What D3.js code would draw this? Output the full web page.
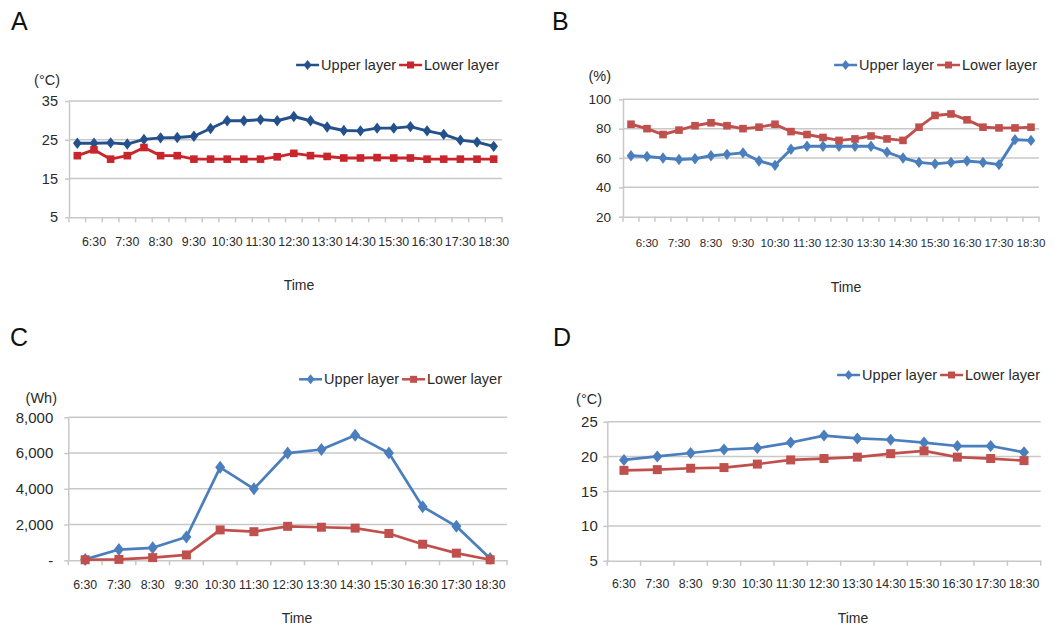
<!DOCTYPE html>
<html>
<head>
<meta charset="utf-8">
<script src="https://cdn.jsdelivr.net/npm/d3@7"></script>
<style>
  body { margin: 0; background: #fff; }
  svg { display: block; font-family: "Liberation Sans", Arial, Helvetica, sans-serif; }
</style>
</head>
<body>
<svg id="chart" width="1055" height="625"></svg>
<script>
// Half-hourly readings (panels A, B) and hourly readings (panels C, D)
const halfHourTimes = ["6:00","6:30","7:00","7:30","8:00","8:30","9:00","9:30","10:00","10:30",
  "11:00","11:30","12:00","12:30","13:00","13:30","14:00","14:30","15:00","15:30",
  "16:00","16:30","17:00","17:30","18:00","18:30"];
const hourTimes = ["6:30","7:30","8:30","9:30","10:30","11:30","12:30","13:30","14:30",
  "15:30","16:30","17:30","18:30"];

// A: air temperature (°C)
const tempUpperA = [24.1, 24.1, 24.2, 23.9, 25.1, 25.5, 25.6, 25.9, 27.9, 29.9, 29.9, 30.2, 29.9,
  31.0, 29.9, 28.3, 27.4, 27.3, 28.0, 28.0, 28.4, 27.3, 26.4, 24.9, 24.4, 23.3];
const tempLowerA = [20.9, 22.4, 20.0, 20.9, 23.0, 20.9, 20.9, 20.0, 20.0, 20.0, 20.0, 20.0, 20.6,
  21.5, 20.9, 20.7, 20.3, 20.3, 20.4, 20.3, 20.3, 20.0, 20.0, 20.0, 20.0, 20.0];

// B: relative humidity (%)
const humidUpperB = [61.5, 61, 60, 59, 59.5, 61.5, 62.5, 63.5, 58, 55, 66, 68, 68, 68, 68, 68,
  64, 60, 57, 56, 57, 58, 57, 55.5, 72.5, 72];
const humidLowerB = [83, 80, 76, 79, 82, 84, 82, 80, 81, 83, 78, 76, 74, 72, 73, 75, 73, 72,
  81, 89, 90, 86, 81, 80.5, 80.5, 81];

// C: solar energy (Wh)
const energyUpperC = [50, 600, 700, 1300, 5200, 4000, 6000, 6200, 7000, 6000, 3000, 1900, 100];
const energyLowerC = [30, 50, 150, 300, 1700, 1600, 1900, 1850, 1800, 1500, 900, 400, 30];

// D: substrate temperature (°C)
const tempUpperD = [19.5, 20, 20.5, 21, 21.2, 22, 23, 22.6, 22.4, 22, 21.5, 21.5, 20.6];
const tempLowerD = [18, 18.1, 18.3, 18.4, 18.9, 19.5, 19.7, 19.9, 20.4, 20.8, 19.9, 19.7, 19.4];

// Axis ticks
const ticksA = [5, 15, 25, 35];
const ticksB = [20, 40, 60, 80, 100];
const ticksC = [0, 2000, 4000, 6000, 8000];
const ticksD = [5, 10, 15, 20, 25];

const seriesNames = ["Upper layer", "Lower layer"];

const gridColor = "#c8c8c8";
const textColor = "#2a2a2a";
const svg = d3.select("#chart");

const diamond = (w, h) => `M0,${-h}L${w},0L0,${h}L${-w},0Z`;

function drawMarker(sel, shape, color, s) {
  if (shape === "diamond") {
    sel.append("path").attr("d", diamond(s.dw, s.dh)).attr("fill", color);
  } else {
    sel.append("rect").attr("x", -s.sq).attr("y", -s.sq)
      .attr("width", 2 * s.sq).attr("height", 2 * s.sq).attr("fill", color);
  }
}

function drawPanel(p) {
  const g = svg.append("g");
  const x = d3.scaleBand().domain(p.categories).range([p.left, p.right]).padding(0);
  const y = d3.scaleLinear().domain(p.domain).range([p.bottom, p.top]);
  const cx = c => x(c) + x.bandwidth() / 2;

  // horizontal gridlines
  g.append("g").selectAll("line").data(p.ticks.slice(1)).join("line")
    .attr("x1", p.left).attr("x2", p.right)
    .attr("y1", d => y(d)).attr("y2", d => y(d))
    .attr("stroke", gridColor).attr("stroke-width", 1.5);

  // y axis
  const yAxis = g.append("g").attr("transform", `translate(${p.left},0)`)
    .call(d3.axisLeft(y).tickValues(p.ticks).tickSize(4).tickSizeOuter(0)
      .tickPadding(p.yPad).tickFormat(p.format));
  yAxis.select(".domain").attr("stroke", gridColor).attr("stroke-width", 1.5);
  yAxis.selectAll(".tick line").attr("stroke", gridColor).attr("stroke-width", 1.5);
  yAxis.selectAll("text").attr("fill", textColor).style("font-size", p.yFont + "px")
    .style("font-family", "'Liberation Sans', Arial, sans-serif");

  // x axis with tick marks between categories
  const xAxis = g.append("g").attr("transform", `translate(0,${p.bottom})`)
    .call(d3.axisBottom(x).tickValues(p.categories.filter(c => c.endsWith(":30")))
      .tickSize(0).tickSizeOuter(0).tickPadding(p.xPad));
  xAxis.select(".domain").attr("stroke", gridColor).attr("stroke-width", 1.5);
  xAxis.selectAll("text").attr("fill", textColor).style("font-size", p.xFont + "px")
    .style("font-family", "'Liberation Sans', Arial, sans-serif");
  const bounds = p.categories.map(c => x(c)).concat([p.right]);
  g.append("g").selectAll("line").data(bounds).join("line")
    .attr("x1", d => d).attr("x2", d => d)
    .attr("y1", p.bottom).attr("y2", p.bottom + 5)
    .attr("stroke", gridColor).attr("stroke-width", 1.5);

  // series lines and markers
  const line = d3.line().x(d => cx(d.c)).y(d => y(d.v));
  p.series.forEach(s => {
    const pts = p.categories.map((c, i) => ({ c, v: s.values[i] }));
    g.append("path").datum(pts).attr("d", line)
      .attr("fill", "none").attr("stroke", s.color).attr("stroke-width", p.lineWidth)
      .attr("stroke-linejoin", "round");
    g.append("g").selectAll("g").data(pts).join("g")
      .attr("transform", d => `translate(${cx(d.c)},${y(d.v)})`)
      .each(function () { drawMarker(d3.select(this), s.shape, s.color, p.marker); });
  });

  // legend, right-aligned
  const lg = g.append("g");
  let pos = 0;
  p.series.forEach(s => {
    const item = lg.append("g").attr("transform", `translate(${pos},0)`);
    item.append("line").attr("x1", 0).attr("x2", 23).attr("y1", 0).attr("y2", 0)
      .attr("stroke", s.color).attr("stroke-width", 2.5);
    const m = item.append("g").attr("transform", "translate(11.5,0)");
    drawMarker(m, s.shape, s.color, { dw: 4, dh: 5, sq: 3.5 });
    const t = item.append("text").attr("x", 25).attr("y", 5)
      .attr("fill", textColor).style("font-size", "14.5px").text(s.name);
    pos += 25 + t.node().getComputedTextLength() + 3;
  });
  lg.attr("transform", `translate(${p.legendRight - (pos - 3)},${p.legendY})`);

  // unit, axis title and panel letter
  g.append("text").attr("x", p.unitX).attr("y", p.unitY).attr("text-anchor", "end")
    .attr("fill", textColor).style("font-size", "14.5px").text(p.unit);
  g.append("text").attr("x", p.timeX).attr("y", p.timeY).attr("text-anchor", "middle")
    .attr("fill", textColor).style("font-size", "14px").text("Time");
  g.append("text").attr("x", p.letterX).attr("y", p.letterY)
    .attr("fill", "#111").style("font-size", "25px").text(p.letter);
}

const darkBlue = "#24508c", brightRed = "#c8252c";
const blue = "#4a7ebd", red = "#c0504d";

drawPanel({
  letter: "A", letterX: 11, letterY: 30,
  categories: halfHourTimes, domain: [5, 35], ticks: ticksA, format: d3.format("d"),
  left: 69, right: 502, top: 101, bottom: 217.3,
  yPad: 7, yFont: 14.5, xPad: 20, xFont: 12.4,
  unit: "(°C)", unitX: 60, unitY: 85,
  timeX: 299, timeY: 290,
  legendRight: 499, legendY: 65,
  lineWidth: 2.9, marker: { dw: 4.3, dh: 5.7, sq: 3.8 },
  series: [
    { name: seriesNames[0], values: tempUpperA, color: darkBlue, shape: "diamond" },
    { name: seriesNames[1], values: tempLowerA, color: brightRed, shape: "square" }
  ]
});

drawPanel({
  letter: "B", letterX: 552, letterY: 30,
  categories: halfHourTimes, domain: [20, 100], ticks: ticksB, format: d3.format("d"),
  left: 623, right: 1039, top: 99.3, bottom: 216.7,
  yPad: 8, yFont: 13.5, xPad: 22, xFont: 11.6,
  unit: "(%)", unitX: 611, unitY: 81,
  timeX: 846, timeY: 292,
  legendRight: 1037, legendY: 65,
  lineWidth: 2.9, marker: { dw: 4.3, dh: 5.7, sq: 3.8 },
  series: [
    { name: seriesNames[0], values: humidUpperB, color: blue, shape: "diamond" },
    { name: seriesNames[1], values: humidLowerB, color: red, shape: "square" }
  ]
});

drawPanel({
  letter: "C", letterX: 10, letterY: 346,
  categories: hourTimes, domain: [0, 8000], ticks: ticksC,
  format: d => d === 0 ? "-" : d3.format(",")(d),
  left: 68.3, right: 507, top: 417.3, bottom: 560.3,
  yPad: 11, yFont: 15, xPad: 19.5, xFont: 12.3,
  unit: "(Wh)", unitX: 57, unitY: 403,
  timeX: 297, timeY: 623,
  legendRight: 502, legendY: 379.3,
  lineWidth: 2.7, marker: { dw: 5, dh: 6.5, sq: 4.5 },
  series: [
    { name: seriesNames[0], values: energyUpperC, color: blue, shape: "diamond" },
    { name: seriesNames[1], values: energyLowerC, color: red, shape: "square" }
  ]
});

drawPanel({
  letter: "D", letterX: 553, letterY: 346,
  categories: hourTimes, domain: [5, 25], ticks: ticksD, format: d3.format("d"),
  left: 607.3, right: 1040.7, top: 421.7, bottom: 560.7,
  yPad: 5.5, yFont: 15, xPad: 18.5, xFont: 12.3,
  unit: "(°C)", unitX: 602, unitY: 404,
  timeX: 853, timeY: 623,
  legendRight: 1040, legendY: 375,
  lineWidth: 2.7, marker: { dw: 5, dh: 6, sq: 4.5 },
  series: [
    { name: seriesNames[0], values: tempUpperD, color: blue, shape: "diamond" },
    { name: seriesNames[1], values: tempLowerD, color: red, shape: "square" }
  ]
});
</script>
</body>
</html>
